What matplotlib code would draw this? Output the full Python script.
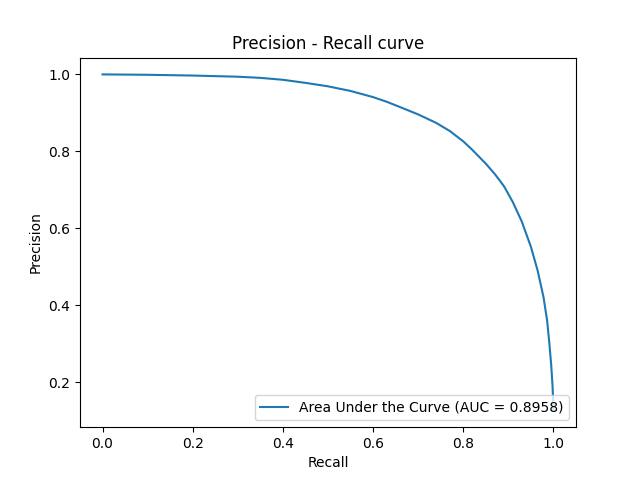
import matplotlib
matplotlib.use("Agg")
import matplotlib.pyplot as plt

# values
recall = [0.0, 0.1, 0.2, 0.3, 0.35, 0.4, 0.45, 0.5, 0.55, 0.6, 0.63, 0.66, 0.7,
          0.74, 0.77, 0.8, 0.82, 0.85, 0.87, 0.89, 0.91, 0.93, 0.95, 0.965,
          0.978, 0.986, 0.991, 0.995, 0.998, 1.0]
precision = [1.0, 0.999, 0.997, 0.994, 0.991, 0.986, 0.978, 0.969, 0.957, 0.941,
             0.929, 0.915, 0.896, 0.874, 0.853, 0.826, 0.804, 0.768, 0.741, 0.71,
             0.668, 0.617, 0.552, 0.49, 0.421, 0.36, 0.3, 0.245, 0.19, 0.127]
auc = 0.8958


def main():
    fig, ax = plt.subplots(figsize=(6.4, 4.8), dpi=100)
    ax.plot(recall, precision, label=f"Area Under the Curve (AUC = {auc:.4f})")
    ax.set_title("Precision - Recall curve")
    ax.set_xlabel("Recall")
    ax.set_ylabel("Precision")
    ax.legend(loc="lower right")
    fig.savefig("out.png")
    plt.close(fig)


if __name__ == "__main__":
    main()
